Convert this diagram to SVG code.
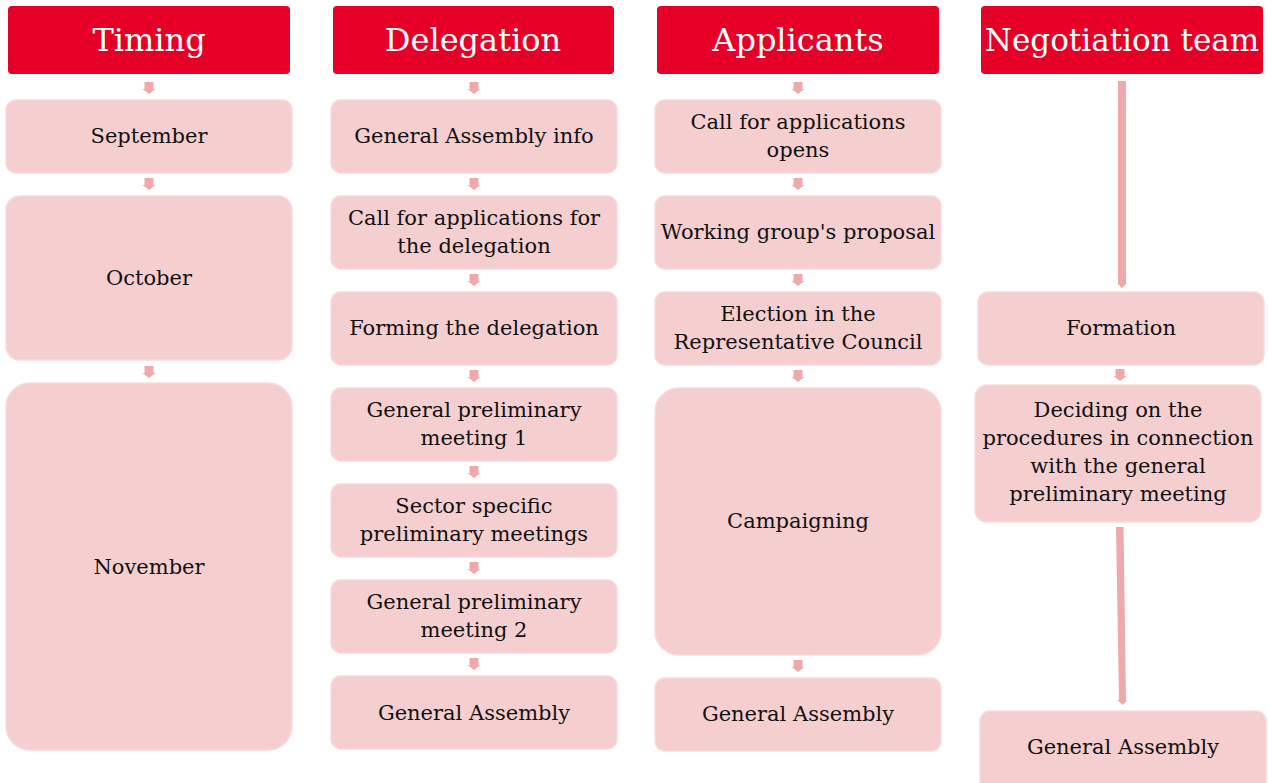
<svg xmlns="http://www.w3.org/2000/svg" width="1268" height="783" viewBox="0 0 1268 783">
<style>
.hdr{fill:#E60028;}
.box{fill:#F5CFD0;stroke:#F8DADB;stroke-width:1.5;}
.ht{font-family:"DejaVu Serif","Liberation Serif",serif;font-size:32px;fill:#fff;text-anchor:middle;}
.bt{font-family:"DejaVu Serif","Liberation Serif",serif;font-size:21px;fill:#111;text-anchor:middle;}
.arr{fill:#F0A9AB;}
</style>
<defs>
<path id="a" class="arr" d="M-4.5,0H4.5V7H6.5L0,12L-6.5,7H-4.5Z"/>
</defs>
<rect width="1268" height="783" fill="#fff"/>
<g id="headers">
<g id="h-timing"><rect class="hdr" x="8" y="6" width="282" height="68" rx="4"/><text class="ht" x="149" y="51">Timing</text></g>
<g id="h-delegation"><rect class="hdr" x="333" y="6" width="281" height="68" rx="4"/><text class="ht" x="473" y="51">Delegation</text></g>
<g id="h-applicants"><rect class="hdr" x="657" y="6" width="282" height="68" rx="4"/><text class="ht" x="798" y="51">Applicants</text></g>
<g id="h-negotiation"><rect class="hdr" x="981" y="6" width="282" height="68" rx="4"/><text class="ht" x="1122" y="51" style="font-size:31px">Negotiation team</text></g>
</g>
<g id="timing">
<g id="t-sep"><rect class="box" x="6" y="100" width="286" height="73" rx="10"/><text class="bt" x="149" y="143">September</text></g>
<g id="t-oct"><rect class="box" x="6" y="196" width="286" height="164" rx="14"/><text class="bt" x="149" y="285">October</text></g>
<g id="t-nov"><rect class="box" x="6" y="383" width="286" height="367" rx="24"/><text class="bt" x="149" y="574">November</text></g>
</g>
<g id="delegation">
<g id="d1"><rect class="box" x="331" y="100" width="286" height="73" rx="10"/><text class="bt" x="474" y="143">General Assembly info</text></g>
<g id="d2"><rect class="box" x="331" y="196" width="286" height="73" rx="10"/><text class="bt" x="474" y="225">Call for applications for</text><text class="bt" x="474" y="253">the delegation</text></g>
<g id="d3"><rect class="box" x="331" y="292" width="286" height="73" rx="10"/><text class="bt" x="474" y="335">Forming the delegation</text></g>
<g id="d4"><rect class="box" x="331" y="388" width="286" height="73" rx="10"/><text class="bt" x="474" y="417">General preliminary</text><text class="bt" x="474" y="445">meeting 1</text></g>
<g id="d5"><rect class="box" x="331" y="484" width="286" height="73" rx="10"/><text class="bt" x="474" y="513">Sector specific</text><text class="bt" x="474" y="541">preliminary meetings</text></g>
<g id="d6"><rect class="box" x="331" y="580" width="286" height="73" rx="10"/><text class="bt" x="474" y="609">General preliminary</text><text class="bt" x="474" y="637">meeting 2</text></g>
<g id="d7"><rect class="box" x="331" y="676" width="286" height="73" rx="10"/><text class="bt" x="474" y="720">General Assembly</text></g>
</g>
<g id="applicants">
<g id="a1"><rect class="box" x="655" y="100" width="286" height="73" rx="10"/><text class="bt" x="798" y="129">Call for applications</text><text class="bt" x="798" y="157">opens</text></g>
<g id="a2"><rect class="box" x="655" y="196" width="286" height="73" rx="10"/><text class="bt" x="798" y="239">Working group's proposal</text></g>
<g id="a3"><rect class="box" x="655" y="292" width="286" height="73" rx="10"/><text class="bt" x="798" y="321">Election in the</text><text class="bt" x="798" y="349">Representative Council</text></g>
<g id="a4"><rect class="box" x="655" y="388" width="286" height="267" rx="24"/><text class="bt" x="798" y="528">Campaigning</text></g>
<g id="a5"><rect class="box" x="655" y="678" width="286" height="73" rx="10"/><text class="bt" x="798" y="721">General Assembly</text></g>
</g>
<g id="negotiation">
<g id="n1"><rect class="box" x="978" y="292" width="286" height="73" rx="10"/><text class="bt" x="1121" y="335">Formation</text></g>
<g id="n2"><rect class="box" x="975" y="385" width="286" height="137" rx="12"/><text class="bt" x="1118" y="417">Deciding on the</text><text class="bt" x="1118" y="445">procedures in connection</text><text class="bt" x="1118" y="473">with the general</text><text class="bt" x="1118" y="501">preliminary meeting</text></g>
<g id="n3"><rect class="box" x="980" y="711" width="286" height="80" rx="10"/><text class="bt" x="1123" y="754">General Assembly</text></g>
</g>
<g id="connectors">
<use href="#a" x="149" y="82"/><use href="#a" x="149" y="178"/><use href="#a" x="149" y="366"/>
<use href="#a" x="474" y="82"/><use href="#a" x="474" y="178"/><use href="#a" x="474" y="274"/><use href="#a" x="474" y="370"/><use href="#a" x="474" y="466"/><use href="#a" x="474" y="562"/><use href="#a" x="474" y="658"/>
<use href="#a" x="798" y="82"/><use href="#a" x="798" y="178"/><use href="#a" x="798" y="274"/><use href="#a" x="798" y="370"/><use href="#a" x="798" y="660"/>
<use href="#a" x="1120" y="369"/>
<path class="arr" d="M1118,81H1126V283H1127L1122,288L1117,283H1118Z"/>
<path class="arr" d="M1116,527H1123.5L1126,700H1127.5L1122.5,705L1117.5,700H1119Z"/>
</g>
</svg>
